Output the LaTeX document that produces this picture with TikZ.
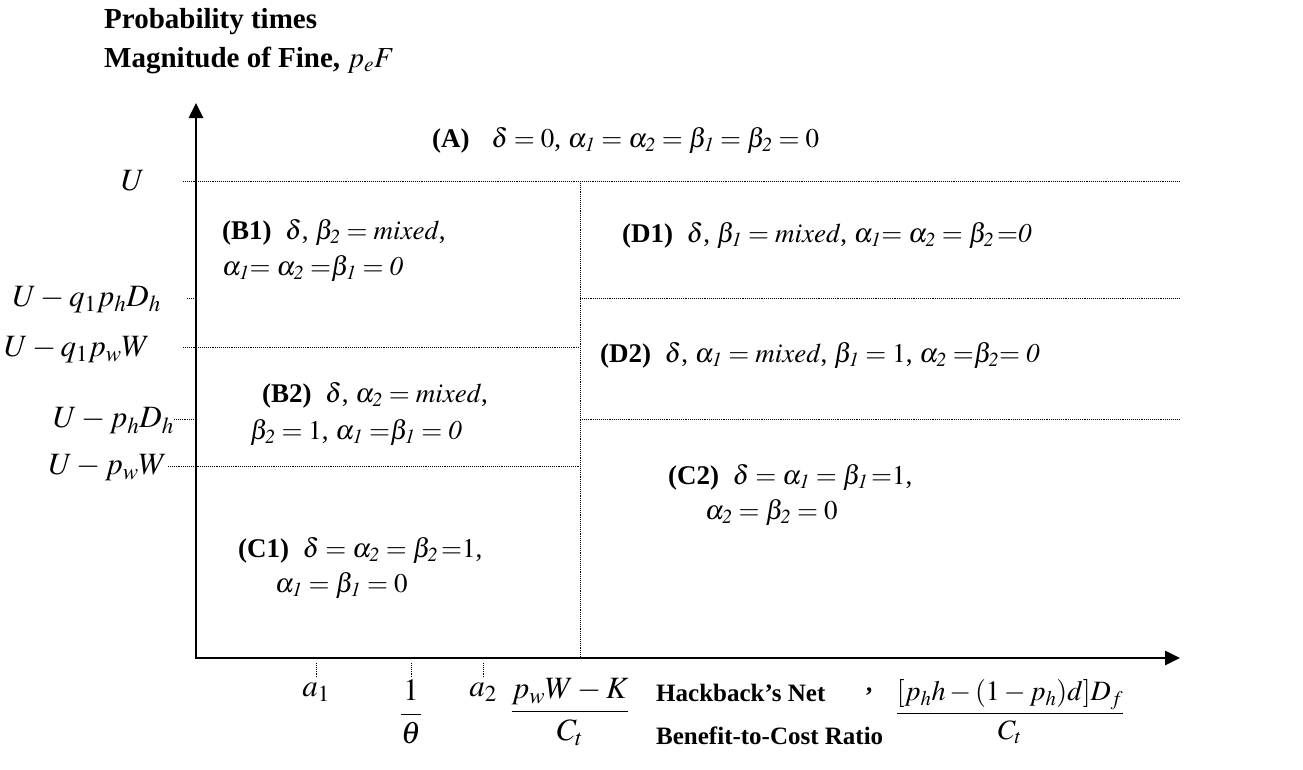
\documentclass[tikz,border=0pt]{standalone}
\usepackage{mathptmx}
\usepackage[no-math]{fontspec}
\setmainfont{Liberation Serif}
\usetikzlibrary{arrows.meta}
\begin{document}
\begin{tikzpicture}[x=1pt,y=-1pt,
  txt/.style={anchor=west,inner sep=0pt,font=\fontsize{27}{31}\selectfont},
  ttl/.style={anchor=west,inner sep=0pt,font=\fontsize{29}{33}\selectfont\bfseries},
  axt/.style={anchor=west,inner sep=0pt,font=\fontsize{25}{29}\selectfont\bfseries},
  axl/.style={inner sep=0pt,font=\fontsize{31}{36}\selectfont},
  axisline/.style={line width=2.6pt,{Triangle[length=15pt,width=14pt]}-{Triangle[length=15pt,width=14pt]}},
  dotline/.style={line width=0.8pt,dash pattern=on 0.8pt off 1.1pt},
]
\useasboundingbox (0,0) rectangle (1303,769);
% axes
\coordinate (O) at (196,658);
\coordinate (Ytop) at (196,103);
\coordinate (Xend) at (1180,658);
\draw[axisline] (Ytop) -- (O) -- (Xend);
% dotted grid
\coordinate (u0) at (183,181);   \coordinate (u1) at (1180,181);
\coordinate (t1a) at (187,298);  \coordinate (t1b) at (196,298);
\coordinate (d1a) at (580,298);  \coordinate (d1b) at (1180,298);
\coordinate (b1a) at (183,347);  \coordinate (b1b) at (580,347);
\coordinate (t2a) at (174,419);  \coordinate (t2b) at (196,419);
\coordinate (d2a) at (580,419);  \coordinate (d2b) at (1180,419);
\coordinate (b2a) at (168,466);  \coordinate (b2b) at (580,466);
\coordinate (va) at (580,181);   \coordinate (vb) at (580,658);
\draw[dotline] (u0) -- (u1);
\draw[dotline] (t1a) -- (t1b);
\draw[dotline] (d1a) -- (d1b);
\draw[dotline] (b1a) -- (b1b);
\draw[dotline] (t2a) -- (t2b);
\draw[dotline] (d2a) -- (d2b);
\draw[dotline] (b2a) -- (b2b);
\draw[dotline] (va) -- (vb);
% ticks under x-axis
\coordinate (k1a) at (316,663); \coordinate (k1b) at (316,677);
\coordinate (k2a) at (411,663); \coordinate (k2b) at (411,677);
\coordinate (k3a) at (483,663); \coordinate (k3b) at (483,677);
\draw[dotline] (k1a) -- (k1b);
\draw[dotline] (k2a) -- (k2b);
\draw[dotline] (k3a) -- (k3b);
% title
\node[ttl] (title1) at (104,22) {Probability times};
\node[ttl] (title2) at (104,60) {Magnitude of Fine, \mdseries$p_eF$};
% y labels
\node[axl,anchor=east] (lu) at (145,181) {$U$};
\node[axl,anchor=east] (lq1) at (161,300) {$U-q_1p_hD_h$};
\node[axl,anchor=east] (lq2) at (150,350) {$U-q_1p_wW$};
\node[axl,anchor=east] (lph) at (174,421) {$U-p_hD_h$};
\node[axl,anchor=east] (lpw) at (167,468) {$U-p_wW$};
% x labels
\node[axl] (la1) at (316,692) {$a_1$};
\node[axl] (lth) at (411,712) {$\displaystyle\frac{1}{\theta}$};
\node[axl] (la2) at (483,692) {$a_2$};
\node[axl] (lpk) at (570,712) {$\displaystyle\frac{p_wW-K}{C_t}$};
\node[axt] (hb1) at (656,693) {Hackback’s Net};
\node[axt] (hb2) at (656,736) {Benefit-to-Cost Ratio};
\node[axt] (comma) at (866,692) {,};
\node[axl,font=\fontsize{28}{32}\selectfont] (lfr) at (1010,712) {$\displaystyle\frac{[p_hh-(1-p_h)d]D_f}{C_t}$};
% regions
\node[txt] (rA) at (432,140) {\textbf{(A)}\hspace{0.8em}$\delta=0$, $\alpha_{\mathit1}=\alpha_{\mathit2}=\beta_{\mathit1}=\beta_{\mathit2}=0$};
\node[txt] (rB1a) at (222,232) {\textbf{(B1)}\hspace{0.5em}$\delta$, $\beta_{\mathit2}=\mathit{mixed}$,};
\node[txt] (rB1b) at (222,268) {$\alpha_{\mathit1}{=}\;\alpha_{\mathit2}\;{=}\beta_{\mathit1}=\mathit0$};
\node[txt] (rD1) at (622,235) {\textbf{(D1)}\hspace{0.5em}$\delta$, $\beta_{\mathit1}=\mathit{mixed}$, $\alpha_{\mathit1}{=}\;\alpha_{\mathit2}=\beta_{\mathit2}\,{=}\mathit0$};
\node[txt] (rD2) at (600,355) {\textbf{(D2)}\hspace{0.5em}$\delta$, $\alpha_{\mathit1}=\mathit{mixed}$, $\beta_{\mathit1}=1$, $\alpha_{\mathit2}\;{=}\beta_{\mathit2}{=}\;\mathit0$};
\node[txt] (rB2a) at (262,395) {\textbf{(B2)}\hspace{0.5em}$\delta$, $\alpha_{\mathit2}=\mathit{mixed}$,};
\node[txt] (rB2b) at (250,432) {$\beta_{\mathit2}=1$, $\alpha_{\mathit1}\;{=}\beta_{\mathit1}=\mathit0$};
\node[txt] (rC2a) at (668,477) {\textbf{(C2)}\hspace{0.5em}$\delta=\alpha_{\mathit1}=\beta_{\mathit1}\,{=}1$,};
\node[txt] (rC2b) at (705,512) {$\alpha_{\mathit2}=\beta_{\mathit2}=0$};
\node[txt] (rC1a) at (238,550) {\textbf{(C1)}\hspace{0.5em}$\delta=\alpha_{\mathit2}=\beta_{\mathit2}\,{=}1$,};
\node[txt] (rC1b) at (275,585) {$\alpha_{\mathit1}=\beta_{\mathit1}=0$};
\end{tikzpicture}
\end{document}
